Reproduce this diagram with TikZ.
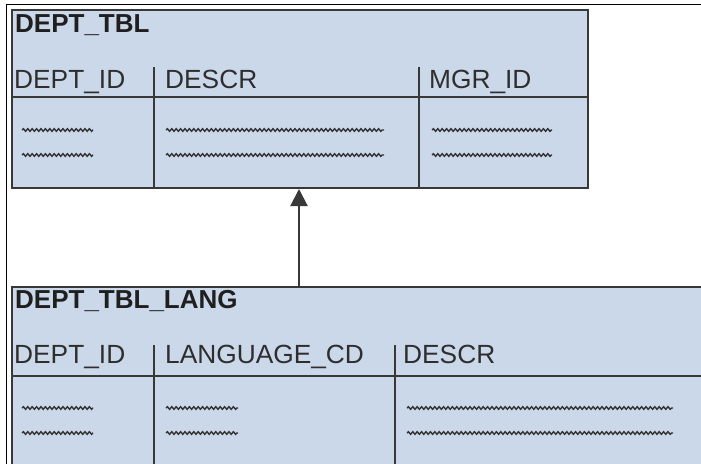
\documentclass[tikz,border=0pt]{standalone}
\usepackage{fontspec}
\setmainfont{Liberation Sans}
\usetikzlibrary{arrows.meta,decorations.pathmorphing}
\definecolor{tblfill}{HTML}{CBD8EA}
\definecolor{tblline}{HTML}{383838}
\begin{document}
\begin{tikzpicture}[x=1pt,y=-1pt,
  tablebox/.style={draw=tblline,line width=2pt,fill=tblfill,rectangle,inner sep=0pt,anchor=north west},
  sepline/.style={draw=tblline,line width=2pt},
  title/.style={anchor=base west,inner sep=0pt,font=\fontsize{26}{30}\selectfont\bfseries,text=black!88},
  colhead/.style={anchor=base west,inner sep=0pt,font=\fontsize{26.3}{30}\selectfont,text=black!82},
  squig/.style={draw=black!80,line width=1.4pt,decorate,decoration={snake,segment length=4.4pt,amplitude=1.3pt}},
  linkarrow/.style={draw=tblline,line width=2pt,-{Triangle[length=17pt,width=17pt]}}]
\useasboundingbox (0,0) rectangle (701,463);
\clip (0,0) rectangle (701,463);
% outer frame
\draw[line width=1pt,black] (6.5,470) -- (6.5,4.5) -- (710,4.5);
% top table
\node[tablebox,minimum width=576pt,minimum height=178pt] (tbl) at (11,9) {};
\draw[sepline] (11,97) -- (587,97);
\draw[sepline] (154,67) -- (154,187);
\draw[sepline] (419,67) -- (419,187);
\node[title] (tblname) at (15,32) {DEPT\_TBL};
\node[colhead] (h1) at (14,88) {DEPT\_ID};
\node[colhead] (h2) at (165,88) {DESCR};
\node[colhead] (h3) at (429,88) {MGR\_ID};
\foreach \y in {130,155}{
  \draw[squig] (22,\y) -- (93,\y);
  \draw[squig] (166,\y) -- (384,\y);
  \draw[squig] (432,\y) -- (552,\y);
}
% bottom table
\node[tablebox,minimum width=720pt,minimum height=200pt] (lang) at (11,286) {};
\draw[sepline] (11,376) -- (720,376);
\draw[sepline] (154,345) -- (154,470);
\draw[sepline] (395,345) -- (395,470);
\node[title] (langname) at (15,308) {DEPT\_TBL\_LANG};
\node[colhead] (l1) at (14,363) {DEPT\_ID};
\node[colhead] (l2) at (165,363) {LANGUAGE\_CD};
\node[colhead] (l3) at (403,363) {DESCR};
\foreach \y in {408,433}{
  \draw[squig] (22,\y) -- (93,\y);
  \draw[squig] (166,\y) -- (238,\y);
  \draw[squig] (407,\y) -- (673,\y);
}
% connector
\coordinate (ax) at (299,0);
\draw[linkarrow] (lang.north -| ax) -- (tbl.south -| ax);
\end{tikzpicture}
\end{document}
